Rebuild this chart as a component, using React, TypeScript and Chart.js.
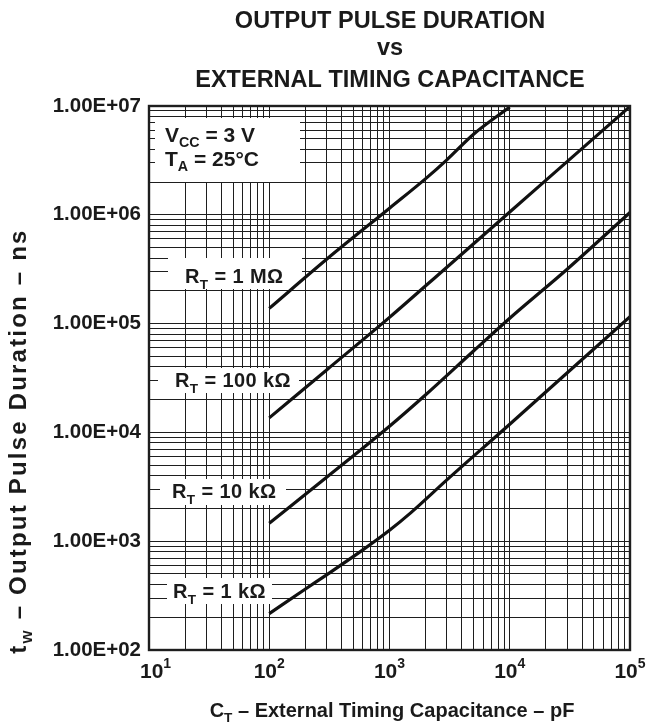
import { useEffect, useRef } from 'react';
import { Chart, registerables } from 'chart.js';

Chart.register(...registerables);

// ---- data ----
const capacitance1M = [100, 300, 1000, 2000, 3000, 5000, 10000];
const duration1M = [1.38e5, 3.9e5, 1.15e6, 2.15e6, 3.2e6, 5.5e6, 9.8e6];

const capacitance100k = [100, 300, 1000, 3000, 10000, 30000, 100000];
const duration100k = [1.36e4, 3.75e4, 1.14e5, 3.3e5, 1.06e6, 3.08e6, 9.9e6];

const capacitance10k = [100, 300, 1000, 2000, 5000, 10000, 30000, 100000];
const duration10k = [1.46e3, 3.87e3, 1.14e4, 2.22e4, 5.6e4, 1.12e5, 3.16e5, 1.05e6];

const capacitance1k = [100, 200, 300, 600, 1000, 1500, 3000, 10000, 100000];
const duration1k = [216, 364, 491, 832, 1260, 1820, 3660, 11900, 116000];

const yTickValues = [1e2, 1e3, 1e4, 1e5, 1e6, 1e7];
const yTickLabels = ['1.00E+02', '1.00E+03', '1.00E+04', '1.00E+05', '1.00E+06', '1.00E+07'];
const xTickValues = [10, 100, 1000, 10000, 100000];
const xTickExponents = ['1', '2', '3', '4', '5'];

const curveLabelValues = [' = 1 MΩ', ' = 100 kΩ', ' = 10 kΩ', ' = 1 kΩ'];
const titleLines = ['OUTPUT PULSE DURATION', 'vs', 'EXTERNAL TIMING CAPACITANCE'];

// ---- styling ----
const FONT = '"Liberation Sans", Arial, Helvetica, sans-serif';
const INK = '#1a1a1a';
const GRID = '#1e1e1e';

function gridValues(minExp: number, maxExp: number): number[] {
  const out: number[] = [];
  for (let e = minExp; e < maxExp; e++) {
    for (let m = 1; m <= 9; m++) out.push(m * Math.pow(10, e));
  }
  out.push(Math.pow(10, maxExp));
  return out;
}

type Seg = [string, boolean];

function drawRich(
  ctx: CanvasRenderingContext2D,
  segs: Seg[],
  x: number,
  y: number,
  size: number,
  align: 'left' | 'center',
  subScale = 0.68,
  subOffset = 0.3,
  spacing = 0,
) {
  const subSize = size * subScale;
  (ctx as any).letterSpacing = `${spacing}px`;
  const widths = segs.map(([t, sub]) => {
    ctx.font = `bold ${sub ? subSize : size}px ${FONT}`;
    return ctx.measureText(t).width;
  });
  const total = widths.reduce((a, b) => a + b, 0);
  let cx = align === 'center' ? x - total / 2 : x;
  ctx.textAlign = 'left';
  ctx.textBaseline = 'alphabetic';
  segs.forEach(([t, sub], i) => {
    ctx.font = `bold ${sub ? subSize : size}px ${FONT}`;
    ctx.fillText(t, cx, sub ? y + size * subOffset : y);
    cx += widths[i];
  });
  (ctx as any).letterSpacing = '0px';
  return total;
}

// label placements on the page (pixels)
const conditionsBox = [155, 118, 300, 182];
const curveLabelPlacement = [
  { tx: 185, ty: 283, box: [168, 258, 302, 289] },
  { tx: 175, ty: 387, box: [158, 368, 299, 393] },
  { tx: 172, ty: 498, box: [160, 479, 286, 505] },
  { tx: 173, ty: 598, box: [167, 578, 272, 604] },
];

const boxesPlugin = {
  id: 'boxes',
  beforeDatasetsDraw(chart: any) {
    const ctx: CanvasRenderingContext2D = chart.ctx;
    ctx.save();
    ctx.fillStyle = '#ffffff';
    const [bx1, by1, bx2, by2] = conditionsBox;
    ctx.fillRect(bx1, by1, bx2 - bx1, by2 - by1);
    curveLabelPlacement.forEach((p) => {
      const [x1, y1, x2, y2] = p.box;
      ctx.fillRect(x1, y1, x2 - x1, y2 - y1);
    });
    ctx.restore();
  },
};

const overlayPlugin = {
  id: 'overlay',
  afterDatasetsDraw(chart: any) {
    const ctx: CanvasRenderingContext2D = chart.ctx;
    const ca = chart.chartArea;
    const xs = chart.scales.x;
    ctx.save();

    // frame
    ctx.strokeStyle = GRID;
    ctx.lineWidth = 2.4;
    ctx.strokeRect(ca.left, ca.top, ca.right - ca.left, ca.bottom - ca.top);

    ctx.fillStyle = INK;

    // conditions
    drawRich(ctx, [['V', false], ['CC', true], [' = 3 V', false]], 165, 142, 21, 'left', 0.68, 0.25);
    drawRich(ctx, [['T', false], ['A', true], [' = 25°C', false]], 165, 166, 21, 'left', 0.68, 0.25);

    // curve labels
    curveLabelPlacement.forEach((p, i) => {
      drawRich(ctx, [['R', false], ['T', true], [curveLabelValues[i], false]], p.tx, p.ty, 20, 'left', 0.68, 0.3, 0.4);
    });

    // x tick labels 10^n
    xTickValues.forEach((v, i) => {
      const px = xs.getPixelForValue(v);
      ctx.font = `bold 21px ${FONT}`;
      const wBase = ctx.measureText('10').width;
      ctx.font = `bold 14px ${FONT}`;
      const wExp = ctx.measureText(xTickExponents[i]).width;
      let left = px - (wBase + wExp) / 2;
      if (left < ca.left - 9) left = ca.left - 9;
      ctx.textAlign = 'left';
      ctx.font = `bold 21px ${FONT}`;
      ctx.fillText('10', left, 678);
      ctx.font = `bold 14px ${FONT}`;
      ctx.fillText(xTickExponents[i], left + wBase, 668);
    });

    // title
    ctx.textAlign = 'center';
    ctx.font = `bold 23.5px ${FONT}`;
    ctx.fillText(titleLines[0], 390, 28);
    ctx.fillText(titleLines[1], 390, 55);
    ctx.fillText(titleLines[2], 390, 87);

    // x axis title
    drawRich(ctx, [['C', false], ['T', true], [' – External Timing Capacitance – pF', false]], 392, 717, 20, 'center', 0.68, 0.25);

    // y axis title
    ctx.save();
    ctx.translate(26, 441);
    ctx.rotate(-Math.PI / 2);
    drawRich(ctx, [['t', false], ['w', true], [' – Output Pulse Duration – ns', false]], 0, 0, 24, 'center', 0.7, 0.25, 2.2);
    ctx.restore();

    ctx.restore();
  },
};

export default function App() {
  const ref = useRef<HTMLCanvasElement | null>(null);

  useEffect(() => {
    if (!ref.current) return;
    const series = [
      [capacitance1M, duration1M],
      [capacitance100k, duration100k],
      [capacitance10k, duration10k],
      [capacitance1k, duration1k],
    ];
    const gx = gridValues(1, 5);
    const gy = gridValues(2, 7);
    const chart = new Chart(ref.current, {
      type: 'scatter',
      data: {
        datasets: series.map(([xv, yv]) => ({
          data: xv.map((x, i) => ({ x, y: yv[i] })),
          showLine: true,
          borderColor: '#111111',
          borderWidth: 3.2,
          pointRadius: 0,
          cubicInterpolationMode: 'monotone' as const,
          fill: false,
        })),
      },
      options: {
        responsive: false,
        animation: false,
        devicePixelRatio: 1,
        layout: { padding: { left: 0, top: 106, right: 16, bottom: 76 } },
        plugins: {
          legend: { display: false },
          tooltip: { enabled: false },
          title: { display: false },
        },
        scales: {
          x: {
            type: 'logarithmic',
            min: 10,
            max: 1e5,
            afterBuildTicks: (s: any) => {
              s.ticks = gx.map((v) => ({ value: v }));
            },
            afterFit: (s: any) => {
              s.height = 0;
            },
            ticks: { display: false },
            grid: { color: GRID, lineWidth: 1, drawTicks: false },
            border: { display: false },
          },
          y: {
            type: 'logarithmic',
            min: 100,
            max: 1e7,
            afterBuildTicks: (s: any) => {
              s.ticks = gy.map((v) => ({ value: v }));
            },
            afterFit: (s: any) => {
              s.width = 149;
            },
            ticks: {
              autoSkip: false,
              padding: 8,
              color: INK,
              font: { family: FONT, size: 20.5, weight: 'bold' },
              callback: (v: any) => {
                const idx = yTickValues.findIndex((t) => Math.abs(t - Number(v)) / t < 1e-9);
                return idx >= 0 ? yTickLabels[idx] : '';
              },
            },
            grid: { color: GRID, lineWidth: 1, drawTicks: false },
            border: { display: false },
          },
        },
      } as any,
      plugins: [boxesPlugin, overlayPlugin],
    });
    return () => chart.destroy();
  }, []);

  return (
    <div style={{ position: 'fixed', left: 0, top: 0, width: 646, height: 726, background: '#fff' }}>
      <canvas ref={ref} width={646} height={726} style={{ display: 'block' }} />
    </div>
  );
}
